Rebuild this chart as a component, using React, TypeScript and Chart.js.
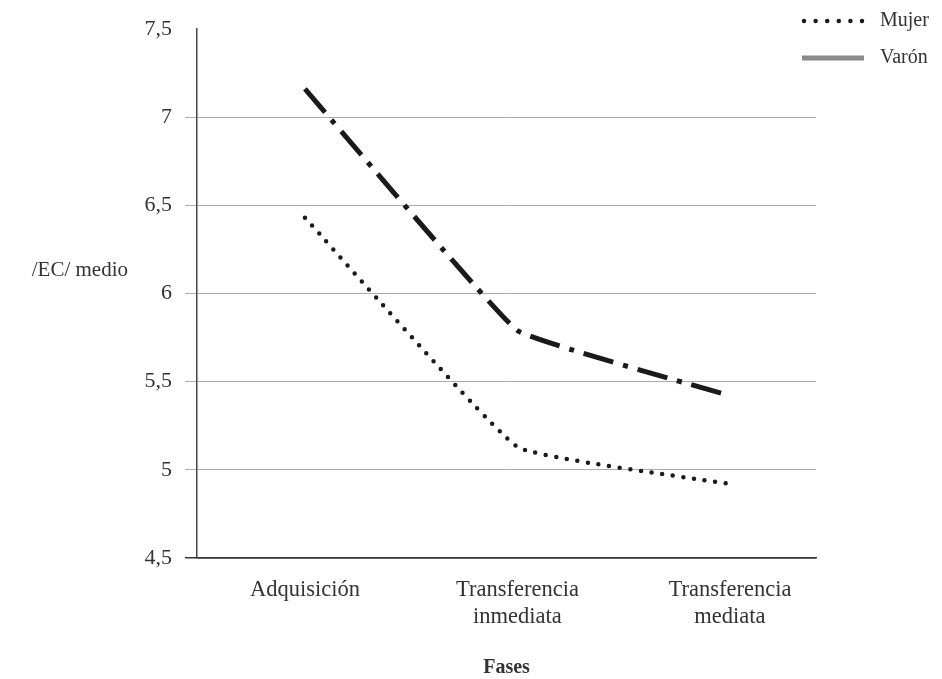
import React, { useEffect, useRef } from "react";
import { Chart, registerables } from "chart.js";

Chart.register(...registerables);

const categories: string[][] = [["Adquisición"], ["Transferencia", "inmediata"], ["Transferencia", "mediata"]];
const seriesNames = ["Mujer", "Varón"];
const mujer = [6.43, 5.13, 4.92];
const varon = [7.16, 5.79, 5.42];
const yTicks = [4.5, 5, 5.5, 6, 6.5, 7, 7.5];
const xTitle = "Fases";
const yTitle = "/EC/ medio";

const FONT = '"Liberation Serif", "Times New Roman", serif';
const TEXT = "#333333";
const LINE = "#1a1a1a";

const overlay = {
  id: "overlay",
  afterDraw(chart: any) {
    const ctx: CanvasRenderingContext2D = chart.ctx;
    const a = chart.chartArea;
    ctx.save();
    ctx.fillStyle = TEXT;
    ctx.font = `21px ${FONT}`;
    ctx.textAlign = "right";
    ctx.textBaseline = "middle";
    ctx.fillText(yTitle, a.left - 69, (a.top + a.bottom) / 2 - 23);

    ctx.font = `bold 20px ${FONT}`;
    ctx.textAlign = "center";
    ctx.fillText(xTitle, (a.left + a.right) / 2, a.bottom + 110);

    // legend
    const names = chart.data.datasets.map((d: any) => d.label);
    const x0 = a.right - 12;
    const x1 = a.right + 46;
    const tx = a.right + 64;
    const rows = [a.top - 8, a.top + 29];
    // Mujer: dotted
    ctx.beginPath();
    ctx.strokeStyle = LINE;
    ctx.lineWidth = 4.5;
    ctx.lineCap = "round";
    ctx.setLineDash([0, 11.6]);
    ctx.moveTo(x0, rows[0]);
    ctx.lineTo(x1 + 1, rows[0]);
    ctx.stroke();
    // Varón: solid gray
    ctx.beginPath();
    ctx.setLineDash([]);
    ctx.lineCap = "butt";
    ctx.strokeStyle = "#8a8a8a";
    ctx.lineWidth = 5;
    ctx.moveTo(x0 - 2, rows[1]);
    ctx.lineTo(x1 + 2, rows[1]);
    ctx.stroke();

    ctx.fillStyle = TEXT;
    ctx.font = `20px ${FONT}`;
    ctx.textAlign = "left";
    ctx.textBaseline = "middle";
    ctx.fillText(names[0], tx, rows[0]);
    ctx.fillText(names[1], tx, rows[1]);
    ctx.restore();
  },
};

export default function App() {
  const ref = useRef<HTMLCanvasElement | null>(null);

  useEffect(() => {
    if (!ref.current) return;
    const chart = new Chart(ref.current, {
      type: "line",
      data: {
        datasets: [
          {
            label: seriesNames[0],
            data: mujer.map((y, i) => ({ x: i, y })),
            borderColor: LINE,
            borderWidth: 4.5,
            borderDash: [0, 10.7],
            borderCapStyle: "round",
            pointRadius: 0,
            tension: 0.1,
            fill: false,
          },
          {
            label: seriesNames[1],
            data: varon.map((y, i) => ({ x: i, y })),
            borderColor: LINE,
            borderWidth: 5,
            borderDash: [31, 10, 5, 10],
            borderCapStyle: "butt",
            pointRadius: 0,
            tension: 0.08,
            fill: false,
          },
        ],
      },
      options: {
        animation: false,
        responsive: true,
        maintainAspectRatio: false,
        layout: { padding: { left: 137, top: 29, right: 126, bottom: 0 } },
        plugins: {
          legend: { display: false },
          tooltip: { enabled: false },
        },
        scales: {
          x: {
            type: "linear",
            min: -0.508,
            max: 2.405,
            afterBuildTicks: (scale: any) => {
              scale.ticks = categories.map((_, i) => ({ value: i }));
            },
            afterFit: (scale: any) => {
              scale.height = 121;
            },
            grid: { display: false, drawTicks: false },
            border: { display: true, color: "#333", width: 1.5 },
            ticks: {
              color: TEXT,
              font: { family: FONT, size: 22.5, lineHeight: 1.2 },
              padding: 19,
              maxRotation: 0,
              autoSkip: false,
              callback: (v: any) => categories[Math.round(Number(v))] ?? "",
            },
          },
          y: {
            min: yTicks[0],
            max: yTicks[yTicks.length - 1],
            afterBuildTicks: (scale: any) => {
              scale.ticks = yTicks.map((v) => ({ value: v }));
            },
            afterFit: (scale: any) => {
              scale.width = 60;
            },
            grid: {
              color: (c: any) =>
                c.tick && c.tick.value === 7.5 ? "rgba(0,0,0,0)" : c.tick && c.tick.value === 4.5 ? "#333" : "#ababab",
              lineWidth: (c: any) => (c.tick && c.tick.value === 4.5 ? 1.5 : 1),
              tickLength: 12,
              drawTicks: true,
            },
            border: { display: true, color: "#444", width: 1.5 },
            ticks: {
              color: TEXT,
              font: { family: FONT, size: 22 },
              padding: 13,
              callback: (v: any) => String(v).replace(".", ","),
            },
          },
        },
      },
      plugins: [overlay],
    });
    return () => chart.destroy();
  }, []);

  return (
    <div style={{ position: "fixed", left: 0, top: 0, width: 942, height: 679, background: "#fff" }}>
      <canvas ref={ref} />
    </div>
  );
}
